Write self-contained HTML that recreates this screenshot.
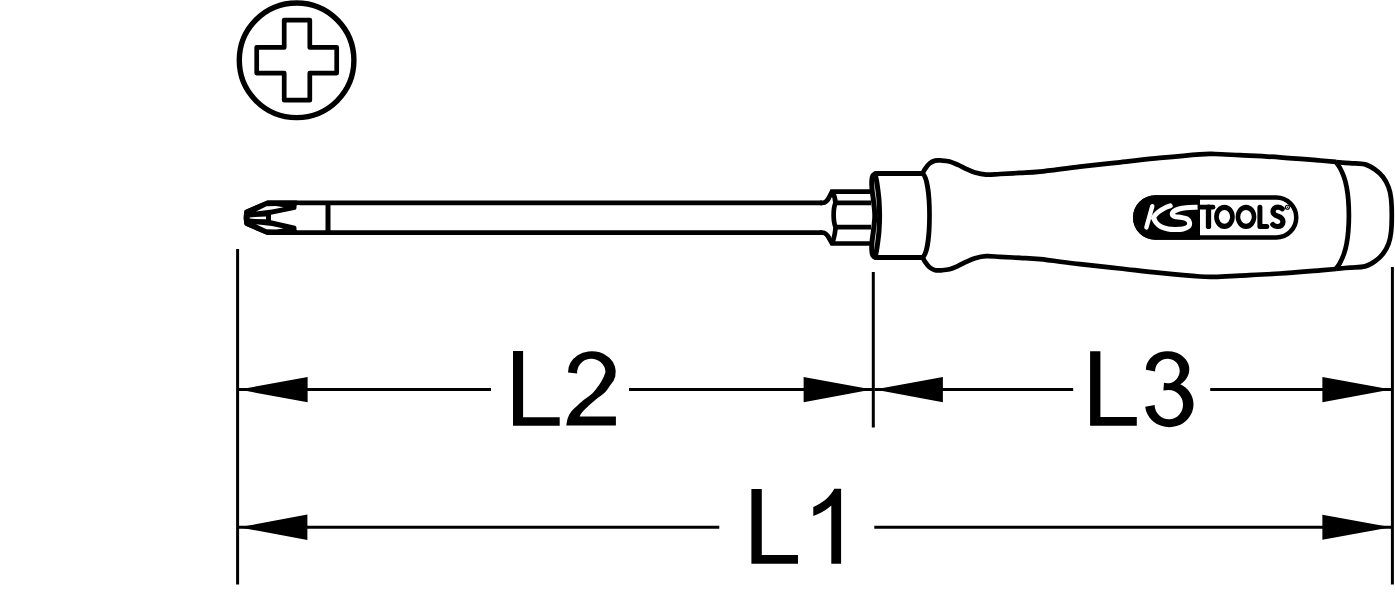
<!DOCTYPE html>
<html>
<head>
<meta charset="utf-8">
<style>
html,body{margin:0;padding:0;background:#fff;}
body{width:1395px;height:598px;overflow:hidden;}
svg{display:block;}
text{font-family:"Liberation Sans",sans-serif;}
</style>
</head>
<body>
<svg width="1395" height="598" viewBox="0 0 1395 598">
<rect x="0" y="0" width="1395" height="598" fill="#fff"/>

<!-- Phillips symbol -->
<g fill="none" stroke="#000">
  <circle cx="296.6" cy="60.3" r="57.3" stroke-width="5.4"/>
  <path d="M284.2,20.1 H309.8 V47.4 H336.7 V73.1 H309.8 V100.2 H284.2 V73.1 H256.7 V47.4 H284.2 Z" stroke-width="4.7" stroke-linejoin="round"/>
</g>

<!-- Screwdriver -->
<g fill="none" stroke="#000" stroke-width="4.7" stroke-linejoin="round" stroke-linecap="butt">
  <!-- shaft -->
  <path d="M822,202.9 H267.5 L246.4,211.8 V223.6 L267.5,232.6 H822"/>
  <path d="M820,202.9 H822.5 C826.5,202.9 828.3,199.5 829.8,196 L832,191.7 H871" stroke-linejoin="miter"/>
  <path d="M820,232.6 H822.5 C826.5,232.6 828.3,236.5 829.8,239.5 L832,243.5 H871" stroke-linejoin="miter"/>
  <line x1="328" y1="203" x2="328" y2="232.5" stroke-width="5"/>
  <!-- hex -->
  <path d="M835.5,202.9 H871"/>
  <path d="M835.5,227.1 H871"/>
  <path d="M832.3,191.7 C834,195 835.5,199 835.5,202.9 C833,209 833,221 835.5,227.1 C835.5,232 834,238 832.3,243.5"/>
  <!-- ferrule -->
  <path d="M923.50,173.60 C916.25,173.60 887.92,173.60 880.00,173.60 C872.08,173.60 877.18,173.27 876.00,173.60 C874.82,173.93 873.60,174.37 872.90,175.60 C872.20,176.83 871.93,178.60 871.80,181.00 C871.67,183.40 871.83,186.83 872.10,190.00 C872.37,193.17 872.95,195.75 873.40,200.00 C873.85,204.25 874.80,210.33 874.80,215.50 C874.80,220.67 873.85,226.75 873.40,231.00 C872.95,235.25 872.37,237.83 872.10,241.00 C871.83,244.17 871.67,247.60 871.80,250.00 C871.93,252.40 872.20,254.17 872.90,255.40 C873.60,256.63 874.82,257.07 876.00,257.40 C877.18,257.73 872.08,257.40 880.00,257.40 C887.92,257.40 916.25,257.40 923.50,257.40" stroke-width="5"/>
  <path d="M875.20,174.50 C875.43,175.58 876.15,178.42 876.60,181.00 C877.05,183.58 877.50,186.83 877.90,190.00 C878.30,193.17 878.72,195.75 879.00,200.00 C879.28,204.25 879.60,210.33 879.60,215.50 C879.60,220.67 879.28,226.75 879.00,231.00 C878.72,235.25 878.30,237.83 877.90,241.00 C877.50,244.17 877.05,247.42 876.60,250.00 C876.15,252.58 875.43,255.42 875.20,256.50" stroke-width="5"/>
  <path d="M922.6,173.5 C927,177 929.5,195 929.5,215.5 C929.5,236 927,254 922.6,257.5"/>
  <!-- handle -->
  <path d="M922.60,173.50 C922.98,172.78 923.75,170.87 924.90,169.20 C926.05,167.53 927.78,164.93 929.50,163.50 C931.22,162.07 933.20,161.10 935.20,160.60 C937.20,160.10 939.12,160.35 941.50,160.50 C943.88,160.65 946.73,160.77 949.50,161.50 C952.27,162.23 955.23,163.62 958.10,164.90 C960.97,166.18 963.88,167.92 966.70,169.20 C969.52,170.48 971.78,171.70 975.00,172.60 C978.22,173.50 981.83,174.37 986.00,174.60 C990.17,174.83 994.33,174.28 1000.00,174.00 C1005.67,173.72 1013.33,173.30 1020.00,172.90 C1026.67,172.50 1030.00,172.65 1040.00,171.60 C1050.00,170.55 1066.67,168.15 1080.00,166.60 C1093.33,165.05 1106.67,163.75 1120.00,162.30 C1133.33,160.85 1146.67,159.23 1160.00,157.90 C1173.33,156.57 1190.83,154.95 1200.00,154.30 C1209.17,153.65 1208.33,153.85 1215.00,154.00 C1221.67,154.15 1229.17,154.65 1240.00,155.20 C1250.83,155.75 1266.67,156.42 1280.00,157.30 C1293.33,158.18 1310.67,159.75 1320.00,160.50 C1329.33,161.25 1333.33,161.58 1336.00,161.80"/>
  <path d="M922.60,257.30 C922.98,258.02 923.75,259.93 924.90,261.60 C926.05,263.27 927.78,265.87 929.50,267.30 C931.22,268.73 933.20,269.70 935.20,270.20 C937.20,270.70 939.12,270.45 941.50,270.30 C943.88,270.15 946.73,270.03 949.50,269.30 C952.27,268.57 955.23,267.18 958.10,265.90 C960.97,264.62 963.88,262.88 966.70,261.60 C969.52,260.32 971.78,259.10 975.00,258.20 C978.22,257.30 981.83,256.43 986.00,256.20 C990.17,255.97 994.33,256.52 1000.00,256.80 C1005.67,257.08 1013.33,257.50 1020.00,257.90 C1026.67,258.30 1030.00,258.15 1040.00,259.20 C1050.00,260.25 1066.67,262.65 1080.00,264.20 C1093.33,265.75 1106.67,267.05 1120.00,268.50 C1133.33,269.95 1146.67,271.57 1160.00,272.90 C1173.33,274.23 1190.83,275.85 1200.00,276.50 C1209.17,277.15 1208.33,276.95 1215.00,276.80 C1221.67,276.65 1229.17,276.15 1240.00,275.60 C1250.83,275.05 1266.67,274.38 1280.00,273.50 C1293.33,272.62 1310.67,271.05 1320.00,270.30 C1329.33,269.55 1333.33,269.22 1336.00,269.00"/>
  <path d="M1336.00,162.00 C1336.67,163.00 1338.67,165.50 1340.00,168.00 C1341.33,170.50 1342.90,173.83 1344.00,177.00 C1345.10,180.17 1345.88,183.17 1346.60,187.00 C1347.32,190.83 1347.92,195.27 1348.30,200.00 C1348.68,204.73 1348.90,210.27 1348.90,215.40 C1348.90,220.53 1348.68,226.07 1348.30,230.80 C1347.92,235.53 1347.32,239.97 1346.60,243.80 C1345.88,247.63 1345.10,250.63 1344.00,253.80 C1342.90,256.97 1341.33,260.30 1340.00,262.80 C1338.67,265.30 1336.67,267.80 1336.00,268.80"/>
  <path d="M1336.00,162.00 C1338.33,162.20 1345.17,162.80 1350.00,163.20 C1354.83,163.60 1360.83,163.35 1365.00,164.40 C1369.17,165.45 1372.00,167.40 1375.00,169.50 C1378.00,171.60 1380.75,174.08 1383.00,177.00 C1385.25,179.92 1387.17,183.50 1388.50,187.00 C1389.83,190.50 1390.45,193.27 1391.00,198.00 C1391.55,202.73 1391.80,209.60 1391.80,215.40 C1391.80,221.20 1391.55,228.07 1391.00,232.80 C1390.45,237.53 1389.83,240.30 1388.50,243.80 C1387.17,247.30 1385.25,250.88 1383.00,253.80 C1380.75,256.72 1378.00,259.20 1375.00,261.30 C1372.00,263.40 1369.17,265.35 1365.00,266.40 C1360.83,267.45 1354.83,267.20 1350.00,267.60 C1345.17,268.00 1338.33,268.60 1336.00,268.80"/>
</g>

<!-- tip details -->
<g fill="#000">
  <path d="M267.5,200.6 H297 V234.9 H267.5 L246.6,226 Q243.9,224.6 243.5,217.75 Q243.9,210.9 246.6,209.5 Z"/>
</g>
<g fill="#fff">
  <path d="M256,211.4 L266.5,206.3 L276,206 L283.5,207.2 L272,209.6 Z"/>
  <path d="M256,224.2 L266.5,229.3 L276,229.6 L283.5,228.4 L272,226 Z"/>
  <path d="M249.7,217.4 L255,216.9 L266,216.5 L266,219.3 L255,219.0 L249.7,218.5 Z"/>
  <path d="M271,214.8 L294,210 A2.5,2.5 0 0 0 296.5,207.5 V205.6 H300 V230 H296.5 V228.1 A2.5,2.5 0 0 0 294,225.6 L271,220.3 Z"/>
</g>

<!-- logo -->
<g>
  <path d="M1155.25,197.45 H1276.25 A20,20 0 0 1 1276.25,237.45 H1155.25 A20,20 0 0 1 1155.25,197.45 Z" fill="#fff" stroke="#000" stroke-width="4.5"/>
  <path d="M1155.2,195.2 H1200 V239.7 H1155.2 A22.25,22.25 0 0 1 1155.2,195.2 Z" fill="#000"/>
  <g fill="none" stroke="#fff" stroke-linecap="round" stroke-linejoin="round">
    <path d="M1146.4,227.4 L1152.3,206.2" stroke-width="4.4"/>
    <path d="M1170.30,205.80 C1169.42,206.13 1166.97,206.80 1165.00,207.80 C1163.03,208.80 1160.25,210.43 1158.50,211.80 C1156.75,213.17 1155.33,214.97 1154.50,216.00 C1153.67,217.03 1153.67,217.67 1153.50,218.00" stroke-width="4.8"/>
    <path d="M1153.50,217.50 C1153.92,218.33 1154.75,220.95 1156.00,222.50 C1157.25,224.05 1159.00,225.72 1161.00,226.80 C1163.00,227.88 1165.67,228.55 1168.00,229.00 C1170.33,229.45 1172.50,229.50 1175.00,229.50 C1177.50,229.50 1180.75,229.50 1183.00,229.00 C1185.25,228.50 1187.42,227.58 1188.50,226.50 C1189.58,225.42 1189.75,223.75 1189.50,222.50 C1189.25,221.25 1188.42,219.85 1187.00,219.00 C1185.58,218.15 1183.00,217.80 1181.00,217.40 C1179.00,217.00 1176.45,217.08 1175.00,216.60 C1173.55,216.12 1172.47,215.38 1172.30,214.50 C1172.13,213.62 1172.88,212.22 1174.00,211.30 C1175.12,210.38 1177.00,209.60 1179.00,209.00 C1181.00,208.40 1182.90,207.98 1186.00,207.70 C1189.10,207.42 1195.67,207.37 1197.60,207.30" stroke-width="5" stroke-linecap="butt"/>
  </g>
  <g fill="none" stroke="#000" stroke-linecap="round" stroke-linejoin="round">
    <path d="M1200.3,207.2 H1213" stroke-width="4.7"/>
    <path d="M1208.5,207.2 V226.4" stroke-width="5.3"/>
    <path d="M1259.9,207.2 V226.5 H1266.8" stroke-width="5"/>
    <path d="M1282.2,208.8 C1281,207.5 1279.5,207.1 1277.8,207.1 C1274.5,207.1 1273,209.5 1273,211.5 C1273,214 1275,215.3 1278,216.3 C1281.5,217.5 1283,219 1283,221.8 C1283,225 1280.5,226.5 1277.8,226.5 C1275.5,226.5 1273.8,225.8 1272.8,224.5" stroke-width="5.2"/>
    <circle cx="1287.4" cy="207.3" r="2" stroke-width="1.1"/>
    <circle cx="1287.4" cy="207.3" r="0.7" fill="#000" stroke="none"/>
  </g>
  <path fill="#000" fill-rule="evenodd" d="M1214.1000000000001,216.85 a10.35,12.15 0 1 0 20.7,0 a10.35,12.15 0 1 0 -20.7,0 Z M1218.8,216.85 a5.65,6.9 0 1 0 11.3,0 a5.65,6.9 0 1 0 -11.3,0 Z M1235.65,216.85 a10.35,12.15 0 1 0 20.7,0 a10.35,12.15 0 1 0 -20.7,0 Z M1240.2,216.85 a5.8,6.9 0 1 0 11.6,0 a5.8,6.9 0 1 0 -11.6,0 Z"/>
</g>

<!-- dimension lines -->
<g stroke="#000" fill="none">
  <line x1="237.6" y1="249" x2="237.6" y2="584.5" stroke-width="3"/>
  <line x1="873.3" y1="272" x2="873.3" y2="427.5" stroke-width="3"/>
  <line x1="1392.4" y1="267" x2="1392.4" y2="584.5" stroke-width="3"/>
  <line x1="239" y1="389.5" x2="491" y2="389.5" stroke-width="3"/>
  <line x1="629" y1="389.5" x2="872" y2="389.5" stroke-width="3"/>
  <line x1="874.5" y1="389.5" x2="1073.2" y2="389.5" stroke-width="3"/>
  <line x1="1210.2" y1="389.5" x2="1391" y2="389.5" stroke-width="3"/>
  <line x1="239" y1="527.3" x2="719.3" y2="527.3" stroke-width="3"/>
  <line x1="874.3" y1="527.3" x2="1391" y2="527.3" stroke-width="3"/>
</g>
<g fill="#000">
  <path d="M239,389.6 L307.6,377 V402.3 Z"/>
  <path d="M872,389.6 L803.6,377 V402.3 Z"/>
  <path d="M874.6,389.6 L942.9,377 V402.3 Z"/>
  <path d="M1391,389.6 L1322.4,377 V402.3 Z"/>
  <path d="M239,527.3 L307.4,514.6 V540 Z"/>
  <path d="M1391,527.3 L1322.4,514.8 V539.8 Z"/>
</g>
<g fill="#000">
  <path d="M513,351 H523.1 V417.3 H559.7 V425.8 H513 Z"/>
  <path d="M568.0,372.6 A23.9,20.8 0 1 1 610.21,385.37 C609.36,386.51 607.50,389.86 605.10,392.20 C602.70,394.54 598.55,397.13 595.80,399.40 C593.05,401.67 590.87,403.67 588.60,405.80 C586.33,407.93 583.70,410.40 582.20,412.20 C580.70,414.00 580.03,415.87 579.60,416.60 L615.9,416.6 L615.9,425.6 L566.3,425.6 C566.55,424.35 566.97,420.43 567.80,418.10 C568.63,415.77 569.87,413.52 571.30,411.60 C572.73,409.68 574.35,408.52 576.40,406.60 C578.45,404.68 580.97,402.27 583.60,400.10 C586.23,397.93 589.62,396.12 592.20,393.60 C594.78,391.08 597.23,387.68 599.10,385.00 C600.97,382.32 602.34,379.68 603.40,377.50 C604.46,375.32 605.14,372.83 605.49,371.90 A14.2,14 0 1 0 577.14,373.6 Z"/>
  <path d="M1090.1,351.2 H1100.4 V417.1 H1136.8 V425.8 H1090.1 Z"/>
  <path d="M1145.9,369.72 A21.7,18.3 0 1 1 1180.35,384.25 A24.2,22.7 0 1 1 1145.23,406.87 L1154.61,405.11 A14.2,14.6 0 1 0 1168.3,390.11 L1163.4,390.4 L1164.0,382.8 A12.3,12.3 0 1 0 1155.11,371.54 Z"/>
  <path d="M751.4,489 H761.8 V554.9 H798 V563.7 H751.4 Z"/>
  <path d="M834.3,488.8 H841.1 V563.7 H831.3 V505.6 C826,510.5 819,514 813.3,516.1 V507.1 C822,503.5 830,497 834.3,488.8 Z"/>
</g>
</svg>
</body>
</html>
